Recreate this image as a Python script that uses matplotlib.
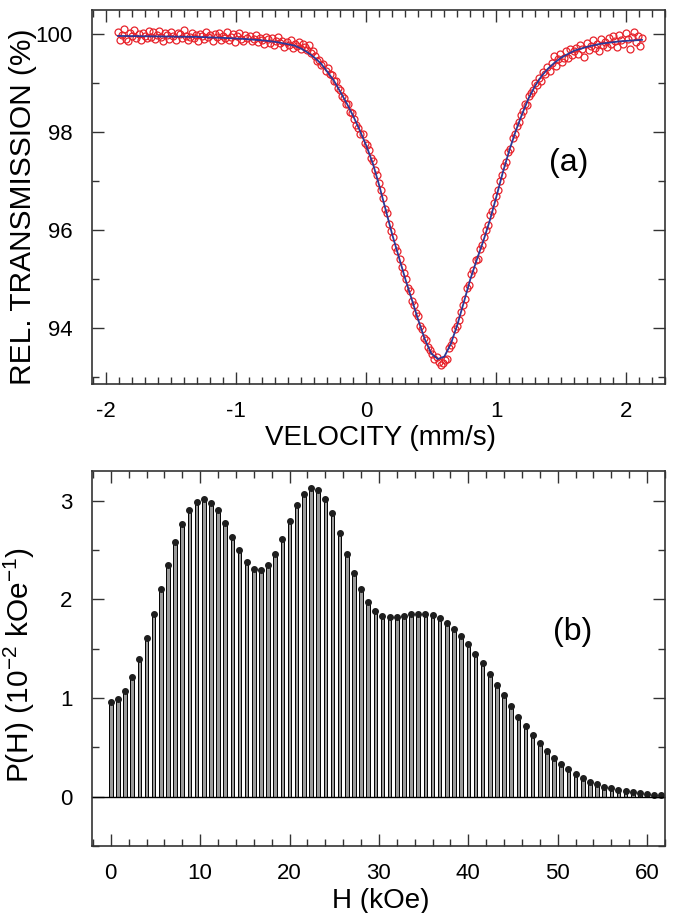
import numpy as np
import matplotlib
matplotlib.use("Agg")
import matplotlib.pyplot as plt
from matplotlib.ticker import MultipleLocator

plt.rcParams["font.family"] = ["Liberation Sans", "DejaVu Sans"]
plt.rcParams["mathtext.default"] = "regular"
plt.rcParams["axes.unicode_minus"] = False

# (a) Moessbauer spectrum: 256 channels, measured transmission (%)
transmission = [
    100.05, 99.88, 99.97, 100.10, 99.90, 99.85, 100.02, 99.95, 100.08, 99.92, 99.99, 99.87, 100.03, 99.96, 99.91, 100.06,
    99.93, 100.04, 99.89, 99.98, 100.07, 99.94, 99.86, 100.01, 99.97, 99.90, 100.05, 99.95, 99.88, 100.02, 99.99, 99.92,
    100.08, 99.96, 99.87, 99.94, 100.03, 99.91, 99.98, 99.85, 100.00, 99.95, 99.89, 100.04, 99.93, 99.97, 99.86, 99.99,
    99.94, 100.02, 99.88, 99.96, 99.91, 100.05, 99.87, 99.93, 99.99, 99.84, 99.95, 100.01, 99.90, 99.86, 99.97, 99.92,
    99.95, 99.85, 99.90, 99.98, 99.83, 99.92, 99.87, 99.80, 99.94, 99.89, 99.82, 99.91, 99.78, 99.86, 99.93, 99.81,
    99.86, 99.74, 99.83, 99.78, 99.88, 99.72, 99.80, 99.75, 99.84, 99.70, 99.79, 99.73, 99.68, 99.77, 99.62, 99.66,
    99.55, 99.44, 99.47, 99.36, 99.38, 99.25, 99.30, 99.18, 99.16, 99.04, 99.05, 98.90, 98.86, 98.74, 98.70, 98.58,
    98.57, 98.41, 98.38, 98.27, 98.15, 98.08, 97.95, 97.96, 97.78, 97.74, 97.63, 97.48, 97.40, 97.22, 97.12, 96.95,
    96.82, 96.66, 96.44, 96.35, 96.12, 95.99, 95.86, 95.66, 95.58, 95.40, 95.24, 95.13, 95.00, 94.82, 94.75, 94.55,
    94.48, 94.30, 94.24, 94.05, 93.98, 93.80, 93.76, 93.62, 93.55, 93.48, 93.38, 93.42, 93.30, 93.24, 93.28, 93.35,
    93.36, 93.60, 93.66, 93.75, 93.98, 94.05, 94.16, 94.33, 94.47, 94.60, 94.82, 94.88, 95.10, 95.18, 95.38, 95.42,
    95.62, 95.70, 95.85, 96.00, 96.10, 96.30, 96.38, 96.55, 96.70, 96.82, 97.00, 97.12, 97.30, 97.38, 97.60, 97.66,
    97.88, 97.95, 98.12, 98.20, 98.35, 98.42, 98.58, 98.55, 98.74, 98.80, 98.85, 99.00, 98.96, 99.10, 99.05, 99.22,
    99.18, 99.32, 99.25, 99.40, 99.55, 99.35, 99.48, 99.60, 99.42, 99.52, 99.65, 99.50, 99.70, 99.58, 99.66, 99.72,
    99.60, 99.78, 99.70, 99.53, 99.82, 99.68, 99.75, 99.88, 99.72, 99.80, 99.66, 99.90, 99.77, 99.84, 99.74, 99.92,
    99.80, 99.95, 99.86, 99.73, 99.97, 99.88, 99.79, 100.02, 99.90, 99.70, 99.94, 100.05, 99.83, 99.96, 99.76, 99.92,
]
velocity = np.linspace(-1.91, 2.12, len(transmission))

# fitted curve
vel_fit = [-1.91, -1.6, -1.3, -1.1, -0.95, -0.8, -0.7, -0.6, -0.55, -0.5, -0.45, -0.4, -0.35, -0.3,
           -0.25, -0.2, -0.15, -0.1, -0.05, 0.0, 0.05, 0.1, 0.15, 0.2, 0.25, 0.3, 0.35, 0.4, 0.45,
           0.5, 0.55, 0.6, 0.65, 0.7, 0.75, 0.8, 0.85, 0.9, 0.95, 1.0, 1.05, 1.1, 1.15, 1.2, 1.25,
           1.3, 1.35, 1.4, 1.45, 1.5, 1.6, 1.7, 1.8, 1.95, 2.12]
trans_fit = [99.96, 99.95, 99.94, 99.92, 99.90, 99.87, 99.84, 99.79, 99.76, 99.70, 99.62, 99.52, 99.40, 99.23,
             99.05, 98.82, 98.58, 98.32, 98.03, 97.72, 97.36, 96.90, 96.40, 95.90, 95.45, 95.00, 94.58, 94.16, 93.77,
             93.48, 93.37, 93.42, 93.68, 94.07, 94.53, 95.00, 95.40, 95.78, 96.20, 96.68, 97.18, 97.63, 98.03, 98.38, 98.70,
             98.95, 99.15, 99.30, 99.42, 99.52, 99.66, 99.74, 99.80, 99.85, 99.88]

# (b) hyperfine field distribution, step 0.8 kOe
p_h = [0.96, 0.99, 1.07, 1.21, 1.39, 1.61, 1.85, 2.10, 2.35, 2.58, 2.76, 2.91, 2.99, 3.02, 2.98, 2.90,
       2.77, 2.63, 2.50, 2.38, 2.31, 2.30, 2.35, 2.46, 2.61, 2.79, 2.96, 3.07, 3.13, 3.11, 3.02, 2.87,
       2.67, 2.46, 2.27, 2.10, 1.97, 1.88, 1.835, 1.82, 1.82, 1.83, 1.85, 1.855, 1.855, 1.84, 1.81, 1.76,
       1.70, 1.63, 1.545, 1.45, 1.35, 1.24, 1.135, 1.03, 0.92, 0.81, 0.72, 0.62, 0.54, 0.465, 0.39, 0.33,
       0.28, 0.23, 0.185, 0.152, 0.124, 0.10, 0.084, 0.068, 0.054, 0.043, 0.033, 0.027, 0.02, 0.017]
field = np.arange(len(p_h)) * 0.8

fig = plt.figure(figsize=(6.73, 9.13), dpi=100)
ax1 = fig.add_axes([0.1367, 0.5794, 0.852, 0.4097])
ax2 = fig.add_axes([0.1367, 0.0734, 0.852, 0.4107])

ax1.plot(velocity, transmission, "o", mfc="none", mec="#e8232b", ms=5.0, mew=0.9)
ax1.plot(vel_fit, trans_fit, "-", color="#2b3896", lw=1.3)
ax1.set_xlim(-2.11, 2.30)
ax1.set_ylim(92.86, 100.49)
ax1.xaxis.set_major_locator(MultipleLocator(1))
ax1.xaxis.set_minor_locator(MultipleLocator(0.1))
ax1.yaxis.set_major_locator(MultipleLocator(2))
ax1.yaxis.set_minor_locator(MultipleLocator(1))
ax1.set_xlabel("VELOCITY (mm/s)", fontsize=20)
ax1.set_ylabel("REL. TRANSMISSION (%)", fontsize=21.5)
ax1.xaxis.set_label_coords(0.503, -0.11)
ax1.yaxis.set_label_coords(-0.096, 0.475)
ax1.text(0.831, 0.591, "(a)", transform=ax1.transAxes, fontsize=23, ha="center", va="center")

ax2.bar(field, p_h, width=0.40, color="#9a9a9a", edgecolor="black", linewidth=0.7)
ax2.plot(field, p_h, "o", color="#1e1e1e", ms=4.0)
ax2.axhline(0, color="black", lw=1.0)
ax2.set_xlim(-2.1, 62.05)
ax2.set_ylim(-0.5, 3.3)
ax2.xaxis.set_major_locator(MultipleLocator(10))
ax2.xaxis.set_minor_locator(MultipleLocator(2))
ax2.yaxis.set_major_locator(MultipleLocator(1))
ax2.yaxis.set_minor_locator(MultipleLocator(0.5))
ax2.set_xlabel("H (kOe)", fontsize=20)
ax2.set_ylabel("P(H) (10$^{-2}$ kOe$^{-1}$)", fontsize=21.5)
ax2.xaxis.set_label_coords(0.503, -0.112)
ax2.yaxis.set_label_coords(-0.096, 0.483)
ax2.text(0.839, 0.571, "(b)", transform=ax2.transAxes, fontsize=23, ha="center", va="center")

for ax in (ax1, ax2):
    for s in ax.spines.values():
        s.set_color("#333333")
        s.set_linewidth(1.2)
    ax.tick_params(which="both", direction="in", top=True, right=True, colors="#333333", width=1.0)
    ax.tick_params(which="major", length=8.5, labelsize=16, labelcolor="black")
    ax.tick_params(which="minor", length=5)
    ax.tick_params(axis="x", pad=12)
    ax.tick_params(axis="y", pad=14)

fig.savefig("out.png", dpi=100)
